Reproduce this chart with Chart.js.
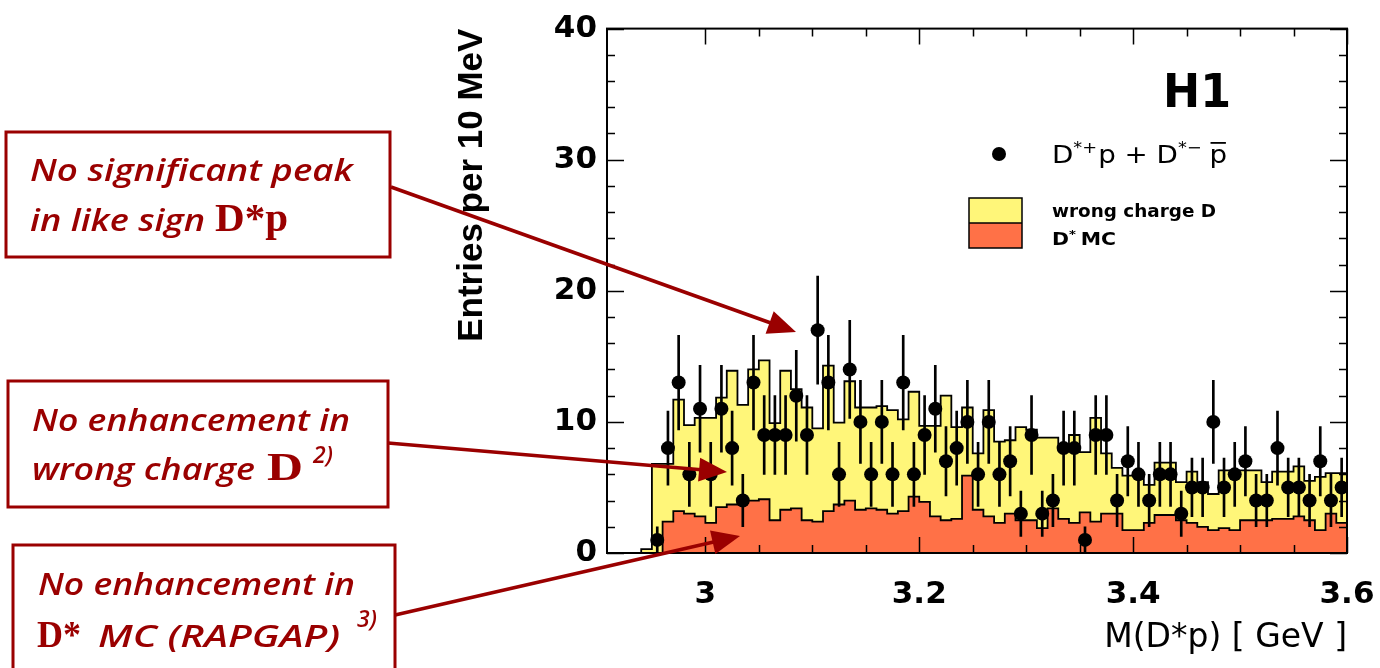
<!DOCTYPE html>
<html>
<head>
<meta charset="utf-8">
<script src="https://cdn.jsdelivr.net/npm/chart.js@4.4.1/dist/chart.umd.min.js"></script>
<style>
  html, body { margin: 0; padding: 0; background: #fff; overflow: hidden; }
</style>
</head>
<body>
<canvas id="myChart" width="1380" height="668"></canvas>
<script>
// bins of 10 MeV, centre values in GeV
const binCenters = [2.945, 2.955, 2.965, 2.975, 2.985, 2.995, 3.005, 3.015, 3.025, 3.035, 3.045,
  3.055, 3.065, 3.075, 3.085, 3.095, 3.105, 3.115, 3.125, 3.135, 3.145,
  3.155, 3.165, 3.175, 3.185, 3.195, 3.205, 3.215, 3.225, 3.235, 3.245,
  3.255, 3.265, 3.275, 3.285, 3.295, 3.305, 3.315, 3.325, 3.335, 3.345,
  3.355, 3.365, 3.375, 3.385, 3.395, 3.405, 3.415, 3.425, 3.435, 3.445,
  3.455, 3.465, 3.475, 3.485, 3.495, 3.505, 3.515, 3.525, 3.535, 3.545,
  3.555, 3.565, 3.575, 3.585, 3.595];

// like sign D*p data (entries per bin)
const entries = [null, 1, 8, 13, 6, 11, 6, 11, 8, 4, 13,
  9, 9, 9, 12, 9, 17, 13, 6, 14, 10,
  6, 10, 6, 13, 6, 9, 11, 7, 8, 10,
  6, 10, 6, 7, 3, 9, 3, 4, 8, 8,
  1, 9, 9, 4, 7, 6, 4, 6, 6, 3,
  5, 5, 10, 5, 6, 7, 4, 4, 8, 5,
  5, 4, 7, 4, 5];

// yellow histogram (wrong charge D)
const wrongChargeD = [0.3, 6.8, 6.8, 11.7, 9.75, 10.3, 10.3, 11.85, 13.9, 11.3, 14.0,
  14.7, 9.9, 13.9, 12.5, 11.1, 9.5, 14.3, 9.95, 13.1, 11.1,
  11.1, 11.2, 10.9, 10.2, 12.3, 9.7, 9.7, 12.0, 9.6, 11.1,
  7.6, 10.9, 8.5, 8.6, 9.6, 9.4, 8.8, 8.8, 8.1, 9.0,
  7.7, 10.3, 7.6, 6.5, 5.9, 5.9, 5.2, 6.9, 6.9, 5.4,
  6.2, 5.4, 4.5, 6.3, 6.3, 6.3, 6.3, 5.4, 6.2, 6.2,
  6.6, 5.5, 5.8, 6.1, 6.1];

// orange histogram (D* MC)
const dStarMC = [0, 0, 2.4, 3.2, 3.0, 2.8, 2.3, 3.5, 3.7, 3.8, 4.0,
  4.1, 2.5, 3.3, 3.4, 2.5, 2.4, 3.2, 3.7, 4.0, 3.3,
  3.4, 3.3, 3.0, 3.2, 4.3, 3.9, 2.8, 2.5, 2.6, 5.9,
  3.3, 2.8, 2.3, 3.0, 2.5, 2.5, 1.9, 3.4, 2.6, 2.3,
  3.1, 2.4, 3.0, 3.0, 1.75, 1.75, 2.3, 2.9, 2.9, 2.5,
  2.3, 2.0, 1.75, 1.9, 1.75, 2.5, 2.5, 2.5, 2.6, 2.6,
  2.8, 2.5, 1.75, 3.0, 2.3];

const yTickValues = [0, 10, 20, 30, 40];
const xTickValues = [3.0, 3.2, 3.4, 3.6];
const xTickLabels = ['3', '3.2', '3.4', '3.6'];
const binWidth = 0.01;

const red = '#9a0000';

// step outline: one point per low edge, closed down to zero at both ends
function histOutline(values) {
  const pts = [{x: binCenters[0] - binWidth / 2, y: 0}];
  values.forEach(function(v, i) {
    pts.push({x: binCenters[i] - binWidth / 2, y: v});
  });
  const lastEdge = binCenters[binCenters.length - 1] + binWidth / 2;
  pts.push({x: lastEdge, y: values[values.length - 1]});
  pts.push({x: lastEdge, y: 0});
  return pts;
}

const dataPoints = [];
const errorBars = [];
entries.forEach(function(n, i) {
  if (n === null) return;
  dataPoints.push({x: binCenters[i], y: n});
  // poisson error on the counts
  errorBars.push({x: binCenters[i], y: [n - Math.sqrt(n), n + Math.sqrt(n)]});
});

function runsWidth(ctx, runs) {
  let w = 0;
  runs.forEach(function(r) {
    ctx.font = r.font;
    w += ctx.measureText(r.text).width + (r.gap || 0);
  });
  return w;
}

// draws text pieces one after another; a piece may have its own x (at) or width
function drawRuns(ctx, x0, y, runs, target) {
  const sx = target ? target / runsWidth(ctx, runs) : 1;
  let x = x0;
  runs.forEach(function(r) {
    ctx.font = r.font;
    if (r.at !== undefined) x = r.at;
    const w = ctx.measureText(r.text).width;
    const rs = r.width ? r.width / w : sx;
    ctx.save();
    ctx.translate(x, y - (r.rise || 0));
    ctx.scale(rs, 1);
    ctx.fillText(r.text, 0, 0);
    if (r.overline) {
      ctx.fillRect(1, -r.overline, w - 2, 1.8);
    }
    ctx.restore();
    x += w * rs + (r.gap || 0) * sx;
  });
}

function arrow(ctx, x0, y0, x1, y1) {
  const ang = Math.atan2(y1 - y0, x1 - x0);
  const len = 28, half = 12;
  const bx = x1 - len * Math.cos(ang), by = y1 - len * Math.sin(ang);
  ctx.beginPath();
  ctx.moveTo(x0, y0);
  ctx.lineTo(bx + 2 * Math.cos(ang), by + 2 * Math.sin(ang));
  ctx.stroke();
  ctx.beginPath();
  ctx.moveTo(x1, y1);
  ctx.lineTo(bx + half * Math.sin(ang), by - half * Math.cos(ang));
  ctx.lineTo(bx - half * Math.sin(ang), by + half * Math.cos(ang));
  ctx.closePath();
  ctx.fill();
}

const frameTicks = {
  id: 'frameTicks',
  afterDatasetsDraw(chart) {
    const ctx = chart.ctx;
    const a = chart.chartArea;
    const x = chart.scales.x, y = chart.scales.y;
    ctx.save();
    ctx.strokeStyle = '#000';
    ctx.lineWidth = 1.5;
    ctx.beginPath();
    for (let v = 0; v <= 40; v += 2) {
      const py = Math.round(y.getPixelForValue(v)) + 0.5;
      const len = v % 10 === 0 ? 17 : 8;
      ctx.moveTo(a.left, py); ctx.lineTo(a.left + len, py);
      ctx.moveTo(a.right, py); ctx.lineTo(a.right - len, py);
    }
    for (let i = 0; i <= 12; i++) {
      const v = 3.0 + i * 0.05;
      const px = Math.round(x.getPixelForValue(v)) + 0.5;
      const len = i % 4 === 0 ? 16 : 8;
      ctx.moveTo(px, a.bottom); ctx.lineTo(px, a.bottom - len);
      ctx.moveTo(px, a.top); ctx.lineTo(px, a.top + len);
    }
    ctx.stroke();
    ctx.lineWidth = 2;
    ctx.strokeRect(a.left, a.top, a.right - a.left, a.bottom - a.top);
    ctx.restore();
  }
};

const annotations = {
  id: 'annotations',
  afterDraw(chart) {
    const ctx = chart.ctx;
    ctx.save();
    ctx.textBaseline = 'alphabetic';
    ctx.textAlign = 'left';

    // legend
    const lf = '"DejaVu Sans", "Liberation Sans", sans-serif';
    ctx.fillStyle = '#000';
    drawRuns(ctx, 1163, 107, [{text: 'H1', font: 'bold 46px ' + lf}], 68);

    ctx.beginPath();
    ctx.arc(999, 154, 7, 0, Math.PI * 2);
    ctx.fill();
    drawRuns(ctx, 1052, 163, [
      {text: 'D', font: '25px ' + lf},
      {text: '*+', font: '16px ' + lf, rise: 10, gap: 1},
      {text: 'p + D', font: '25px ' + lf},
      {text: '*\u2212', font: '16px ' + lf, rise: 10, gap: 7},
      {text: 'p', font: '25px ' + lf, overline: 21}
    ], 175);

    ctx.fillStyle = '#fff679';
    ctx.fillRect(969, 198, 53, 25);
    ctx.fillStyle = '#ff7147';
    ctx.fillRect(969, 223, 53, 25);
    ctx.strokeStyle = '#000';
    ctx.lineWidth = 1.5;
    ctx.strokeRect(969, 198, 53, 50);
    ctx.beginPath(); ctx.moveTo(969, 223); ctx.lineTo(1022, 223); ctx.stroke();

    ctx.fillStyle = '#000';
    drawRuns(ctx, 1052, 217, [{text: 'wrong charge D', font: 'bold 17px ' + lf}], 164);
    drawRuns(ctx, 1052, 245, [
      {text: 'D', font: 'bold 17px ' + lf},
      {text: '*', font: 'bold 11px ' + lf, rise: 7, gap: 4},
      {text: 'MC', font: 'bold 17px ' + lf}
    ], 64);

    // annotation boxes
    const comic = '"Comic Sans MS", "Open Sans", sans-serif';
    const cf = 'italic 600 31px ' + comic;
    const supf = 'italic 600 23px ' + comic;
    const sf = 'bold 40px "Liberation Serif", "Times New Roman", serif';
    const sf2 = 'bold 37px "Liberation Serif", "Times New Roman", serif';

    ctx.strokeStyle = red;
    ctx.lineWidth = 3;
    ctx.strokeRect(6, 132, 384, 125);
    ctx.strokeRect(8, 381, 380, 126);
    ctx.strokeRect(13, 545, 382, 160);

    ctx.fillStyle = red;
    drawRuns(ctx, 30, 181, [{text: 'No significant peak', font: cf, width: 323}]);
    drawRuns(ctx, 30, 231, [
      {text: 'in like sign', font: cf, width: 175},
      {text: 'D*p', font: sf, at: 215, width: 73}
    ]);
    drawRuns(ctx, 32, 431, [{text: 'No enhancement in', font: cf, width: 318}]);
    drawRuns(ctx, 32, 480, [
      {text: 'wrong charge', font: cf, width: 223},
      {text: 'D', font: sf, at: 267, width: 36},
      {text: '2)', font: supf, at: 313, rise: 17}
    ]);
    drawRuns(ctx, 38, 595, [{text: 'No enhancement in', font: cf, width: 317}]);
    drawRuns(ctx, 37, 647, [
      {text: 'D*', font: sf2, width: 44},
      {text: 'MC (RAPGAP)', font: cf, at: 98, width: 242},
      {text: '3)', font: supf, at: 357, rise: 20}
    ]);

    // arrows
    ctx.strokeStyle = red;
    ctx.fillStyle = red;
    ctx.lineWidth = 3.5;
    arrow(ctx, 391, 187, 796, 332);
    arrow(ctx, 388, 443, 727, 472);
    arrow(ctx, 395, 615, 740, 536);

    ctx.restore();
  }
};

new Chart(document.getElementById('myChart'), {
  type: 'scatter',
  data: {
    datasets: [
      {
        type: 'scatter',
        label: 'D*+p + D*- pbar',
        data: dataPoints,
        pointRadius: 7,
        pointHoverRadius: 7,
        pointBackgroundColor: '#000',
        pointBorderWidth: 0,
        order: 0
      },
      {
        type: 'bar',
        label: 'errors',
        data: errorBars,
        backgroundColor: '#000',
        borderWidth: 0,
        barThickness: 2,
        order: 1
      },
      {
        type: 'line',
        label: 'D* MC',
        data: histOutline(dStarMC),
        stepped: 'before',
        fill: 'origin',
        backgroundColor: '#ff7147',
        borderColor: '#000',
        borderWidth: 1.8,
        pointRadius: 0,
        order: 2
      },
      {
        type: 'line',
        label: 'wrong charge D',
        data: histOutline(wrongChargeD),
        stepped: 'before',
        fill: 'origin',
        backgroundColor: '#fff679',
        borderColor: '#000',
        borderWidth: 1.8,
        pointRadius: 0,
        order: 3
      }
    ]
  },
  options: {
    responsive: false,
    animation: false,
    devicePixelRatio: 1,
    layout: {
      padding: {left: 451, right: 33, top: 28, bottom: 0}
    },
    plugins: {
      legend: {display: false},
      tooltip: {enabled: false}
    },
    scales: {
      x: {
        type: 'linear',
        min: 2.908,
        max: 3.6,
        offset: false,
        grid: {display: false, drawTicks: false},
        border: {display: false},
        afterBuildTicks: function(scale) {
          scale.ticks = xTickValues.map(function(v) { return {value: v}; });
        },
        afterFit: function(scale) {
          scale.height = 115;
          scale.paddingLeft = 0;
          scale.paddingRight = 0;
        },
        ticks: {
          autoSkip: false,
          maxRotation: 0,
          padding: 23,
          color: '#000',
          font: {family: 'DejaVu Sans', size: 31, weight: 'bold'},
          callback: function(value) {
            const i = xTickValues.findIndex(function(t) { return Math.abs(t - value) < 1e-6; });
            return i >= 0 ? xTickLabels[i] : '';
          }
        },
        title: {
          display: true,
          text: 'M(D*p) [ GeV ]',
          align: 'end',
          color: '#000',
          font: {family: 'DejaVu Sans', size: 33},
          padding: {top: 0, bottom: 10}
        }
      },
      y: {
        min: 0,
        max: 40,
        grid: {display: false, drawTicks: false},
        border: {display: false},
        afterBuildTicks: function(scale) {
          scale.ticks = yTickValues.map(function(v) { return {value: v}; });
        },
        afterFit: function(scale) { scale.width = 156; },
        ticks: {
          padding: 10,
          color: '#000',
          font: {family: 'DejaVu Sans', size: 31, weight: 'bold'}
        },
        title: {
          display: true,
          text: 'Entries per 10 MeV',
          align: 'end',
          color: '#000',
          font: {family: 'Liberation Sans', size: 35, weight: 'bold'},
          padding: {top: 0, bottom: 0}
        }
      }
    }
  },
  plugins: [frameTicks, annotations]
});
</script>
</body>
</html>
